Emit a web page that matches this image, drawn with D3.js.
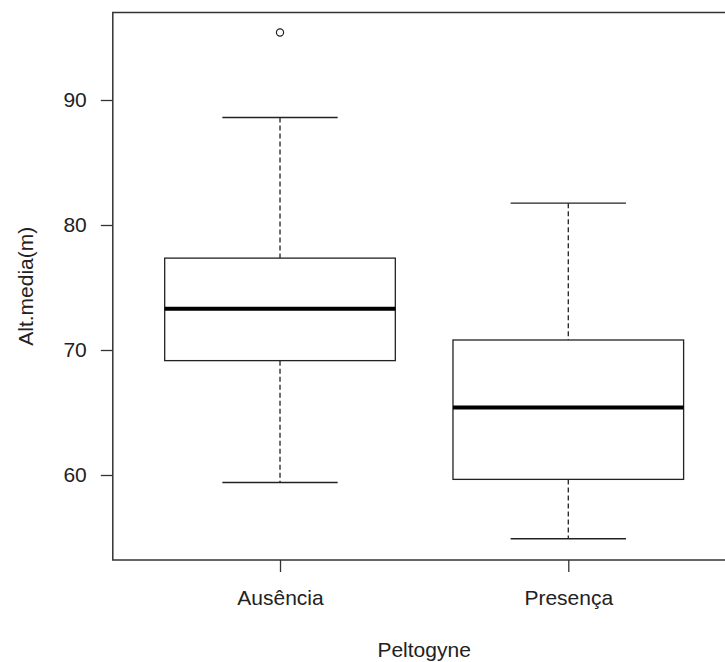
<!DOCTYPE html>
<html>
<head>
<meta charset="utf-8">
<script src="https://cdn.jsdelivr.net/npm/d3@7"></script>
<style>
  html, body { margin: 0; padding: 0; background: #fff; }
  svg { display: block; font-family: "Liberation Sans", Arial, sans-serif; }
</style>
</head>
<body>
<svg id="chart" width="725" height="662"></svg>
<script>
// Box-plot summary of Alt.media(m) by Peltogyne group
const categories  = ["Ausência", "Presença"];
const whiskerLow  = [59.4, 54.9];
const q1          = [69.15, 59.65];
const median      = [73.3, 65.4];
const q3          = [77.35, 70.8];
const whiskerHigh = [88.6, 81.75];
const outliers    = [[95.4], []];
const yTicks      = [60, 70, 80, 90];

const svg = d3.select("#chart");
const ink = "#222";
const fontSize = "21px";

// Plot region (R-style frame; right edge runs past the canvas)
const plotLeft = 112.8, plotRight = 735.5, plotTop = 12.5, plotBottom = 560;

const x = d3.scaleLinear().domain([0.42, 2.58]).range([plotLeft, plotRight]);
const y = d3.scaleLinear().domain([53.2, 97.0]).range([plotBottom, plotTop]);

const boxHalf = 0.4, capHalf = 0.2;

const boxes = categories.map((c, i) => ({
  name: c, pos: i + 1,
  lo: whiskerLow[i], q1: q1[i], med: median[i], q3: q3[i], hi: whiskerHigh[i],
  out: outliers[i]
}));

const g = svg.append("g");

// whiskers (dashed), caps, box, median, outliers
boxes.forEach(b => {
  g.append("line")
    .attr("x1", x(b.pos)).attr("x2", x(b.pos))
    .attr("y1", y(b.hi)).attr("y2", y(b.q3))
    .attr("stroke", ink).attr("stroke-width", 1.3).attr("stroke-dasharray", "5,3");
  g.append("line")
    .attr("x1", x(b.pos)).attr("x2", x(b.pos))
    .attr("y1", y(b.q1)).attr("y2", y(b.lo))
    .attr("stroke", ink).attr("stroke-width", 1.3).attr("stroke-dasharray", "5,3");
  [b.hi, b.lo].forEach(v => {
    g.append("line")
      .attr("x1", x(b.pos - capHalf)).attr("x2", x(b.pos + capHalf))
      .attr("y1", y(v)).attr("y2", y(v))
      .attr("stroke", ink).attr("stroke-width", 1.3);
  });
  g.append("rect")
    .attr("x", x(b.pos - boxHalf)).attr("width", x(b.pos + boxHalf) - x(b.pos - boxHalf))
    .attr("y", y(b.q3)).attr("height", y(b.q1) - y(b.q3))
    .attr("fill", "#fff").attr("stroke", ink).attr("stroke-width", 1.3);
  g.append("line")
    .attr("x1", x(b.pos - boxHalf)).attr("x2", x(b.pos + boxHalf))
    .attr("y1", y(b.med)).attr("y2", y(b.med))
    .attr("stroke", "#000").attr("stroke-width", 4);
  b.out.forEach(v => {
    g.append("circle")
      .attr("cx", x(b.pos)).attr("cy", y(v)).attr("r", 3.6)
      .attr("fill", "none").attr("stroke", ink).attr("stroke-width", 1.2);
  });
});

// frame
svg.append("rect")
  .attr("x", plotLeft).attr("y", plotTop)
  .attr("width", plotRight - plotLeft).attr("height", plotBottom - plotTop)
  .attr("fill", "none").attr("stroke", "#333").attr("stroke-width", 1.5);

// y axis
const yAxis = svg.append("g")
  .attr("transform", `translate(${plotLeft},0)`)
  .call(d3.axisLeft(y).tickValues(yTicks).tickSize(12).tickPadding(14));
yAxis.select(".domain").remove();
yAxis.selectAll(".tick line").attr("stroke", "#333").attr("stroke-width", 1.3);
yAxis.selectAll(".tick text").attr("fill", ink).style("font-size", fontSize)
  .style("font-family", "'Liberation Sans', Arial, sans-serif");

// x axis
const xAxis = svg.append("g")
  .attr("transform", `translate(0,${plotBottom})`)
  .call(d3.axisBottom(x).tickValues(boxes.map(b => b.pos))
    .tickFormat((d, i) => categories[i]).tickSize(12).tickPadding(18));
xAxis.select(".domain").remove();
xAxis.selectAll(".tick line").attr("stroke", "#333").attr("stroke-width", 1.3);
xAxis.selectAll(".tick text").attr("fill", ink).style("font-size", fontSize)
  .style("font-family", "'Liberation Sans', Arial, sans-serif");

// axis titles
svg.append("text")
  .attr("x", (plotLeft + plotRight) / 2).attr("y", 657)
  .attr("text-anchor", "middle").attr("fill", ink).style("font-size", fontSize)
  .text("Peltogyne");

svg.append("text")
  .attr("transform", `translate(33,${(plotTop + plotBottom) / 2}) rotate(-90)`)
  .attr("text-anchor", "middle").attr("fill", ink).style("font-size", fontSize)
  .text("Alt.media(m)");
</script>
</body>
</html>
